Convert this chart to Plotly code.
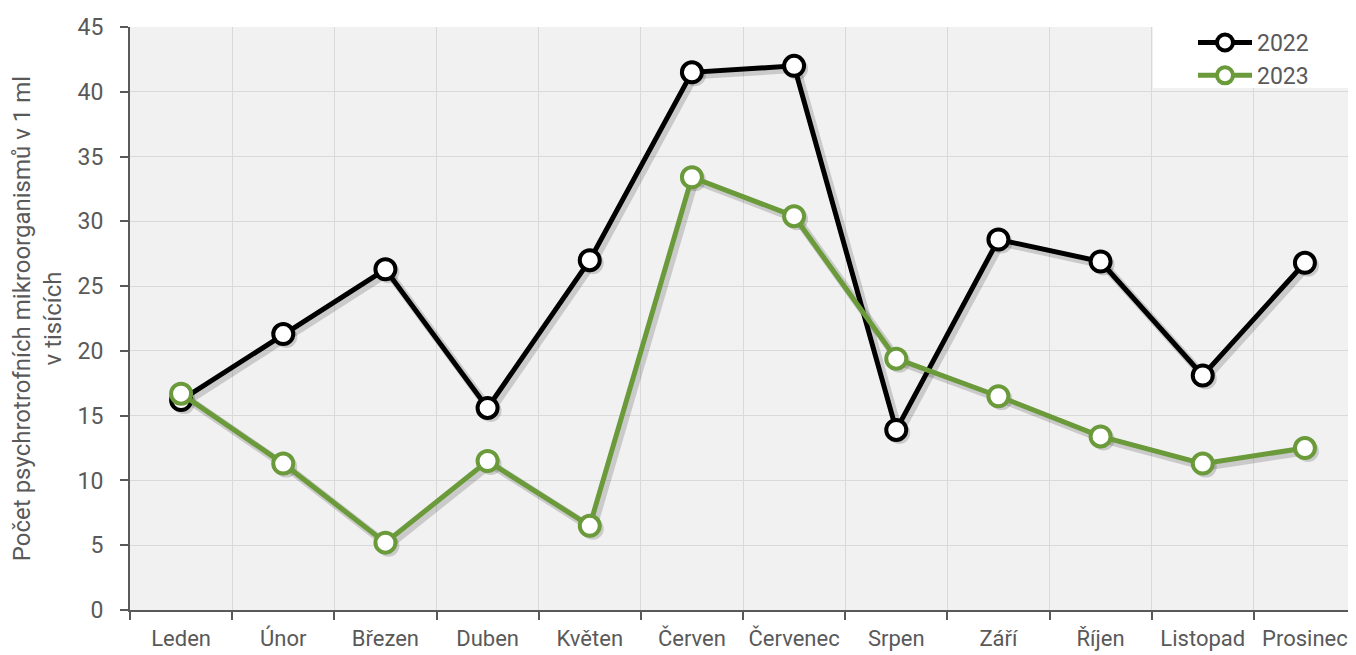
import plotly.graph_objects as go

months = ["Leden", "Únor", "Březen", "Duben", "Květen", "Červen",
          "Červenec", "Srpen", "Září", "Říjen", "Listopad", "Prosinec"]
values_2022 = [16.2, 21.3, 26.3, 15.6, 27.0, 41.5, 42.0, 13.9, 28.6, 26.9, 18.1, 26.8]
values_2023 = [16.7, 11.3, 5.2, 11.5, 6.5, 33.4, 30.4, 19.4, 16.5, 13.4, 11.3, 12.5]
series_names = ["2022", "2023"]
y_ticks = [0, 5, 10, 15, 20, 25, 30, 35, 40, 45]

black = "#000000"
green = "#6a9a3a"
grey = "#595959"
font = "Roboto"

OFF = 8  # default page body margin
W, H = 1356 - OFF, 655 - OFF
ml, mr, mt = 130 - OFF, 0, 27 - OFF
ph = 583
mb = H - mt - ph
pw = W - ml - mr


def px_x(sx):
    return (sx - OFF - ml) / pw


def px_y(sy):
    return (mt + ph + OFF - sy) / ph


dx = 3 / (pw / 12)   # 3px shadow offset in category units
dy = 3 / (ph / 45)

fig = go.Figure()

# soft shadows on hidden, slightly shifted base axes (drawn below)
for vals in (values_2022, values_2023):
    fig.add_trace(go.Scatter(
        x=months, y=vals, mode="lines+markers", xaxis="x", yaxis="y",
        line=dict(color="rgba(0,0,0,0.16)", width=8),
        marker=dict(size=22, color="rgba(0,0,0,0.16)"),
        showlegend=False, hoverinfo="skip"))

for name, vals, col in ((series_names[0], values_2022, black),
                        (series_names[1], values_2023, green)):
    fig.add_trace(go.Scatter(
        x=months, y=vals, name=name, mode="lines+markers",
        xaxis="x2", yaxis="y2",
        line=dict(color=col, width=5),
        marker=dict(size=20, color="white", line=dict(color=col, width=4))))

axis_common = dict(showgrid=True, gridcolor="#d9d9d9", gridwidth=1,
                   showline=True, linecolor=grey, linewidth=2,
                   ticks="outside", ticklen=8, tickwidth=2, tickcolor=grey,
                   automargin=False)

fig.update_layout(
    width=W, height=H,
    margin=dict(l=ml, r=mr, t=mt, b=mb, autoexpand=False),
    paper_bgcolor="white", plot_bgcolor="#f1f1f1",
    font=dict(family=font, color=grey, size=22),
    showlegend=True,
    legend=dict(x=px_x(1193), xanchor="left", y=px_y(21), yanchor="top",
                bgcolor="rgba(0,0,0,0)", font=dict(size=23, color=grey),
                itemwidth=54, tracegroupgap=0, borderwidth=0),
    shapes=[dict(type="rect", xref="paper", yref="paper",
                 x0=px_x(1153), x1=1.0,
                 y0=px_y(88), y1=px_y(25),
                 fillcolor="white", line=dict(width=0), layer="above")],
    xaxis=dict(type="category", range=[-0.5 - dx, 11.5 - dx], visible=False,
               categoryarray=months, categoryorder="array", showgrid=False),
    yaxis=dict(range=[0 + dy, 45 + dy], visible=False, showgrid=False),
    xaxis2=dict(type="category", overlaying="x", anchor="y2",
                range=[-0.5, 11.5], tickson="boundaries", tickangle=0,
                categoryarray=months, categoryorder="array",
                ticklabelstandoff=8,
                tickfont=dict(size=22, color=grey), **axis_common),
    yaxis2=dict(overlaying="y", anchor="x2", side="left",
                range=[0, 45], tickvals=y_ticks, zeroline=False,
                ticklabelstandoff=12,
                tickfont=dict(size=23, color=grey),
                title=dict(text="Počet psychrotrofních mikroorganismů v 1 ml<br>v tisících",
                           font=dict(size=24, color=grey), standoff=14),
                **axis_common),
)

fig.write_html("out.html")
